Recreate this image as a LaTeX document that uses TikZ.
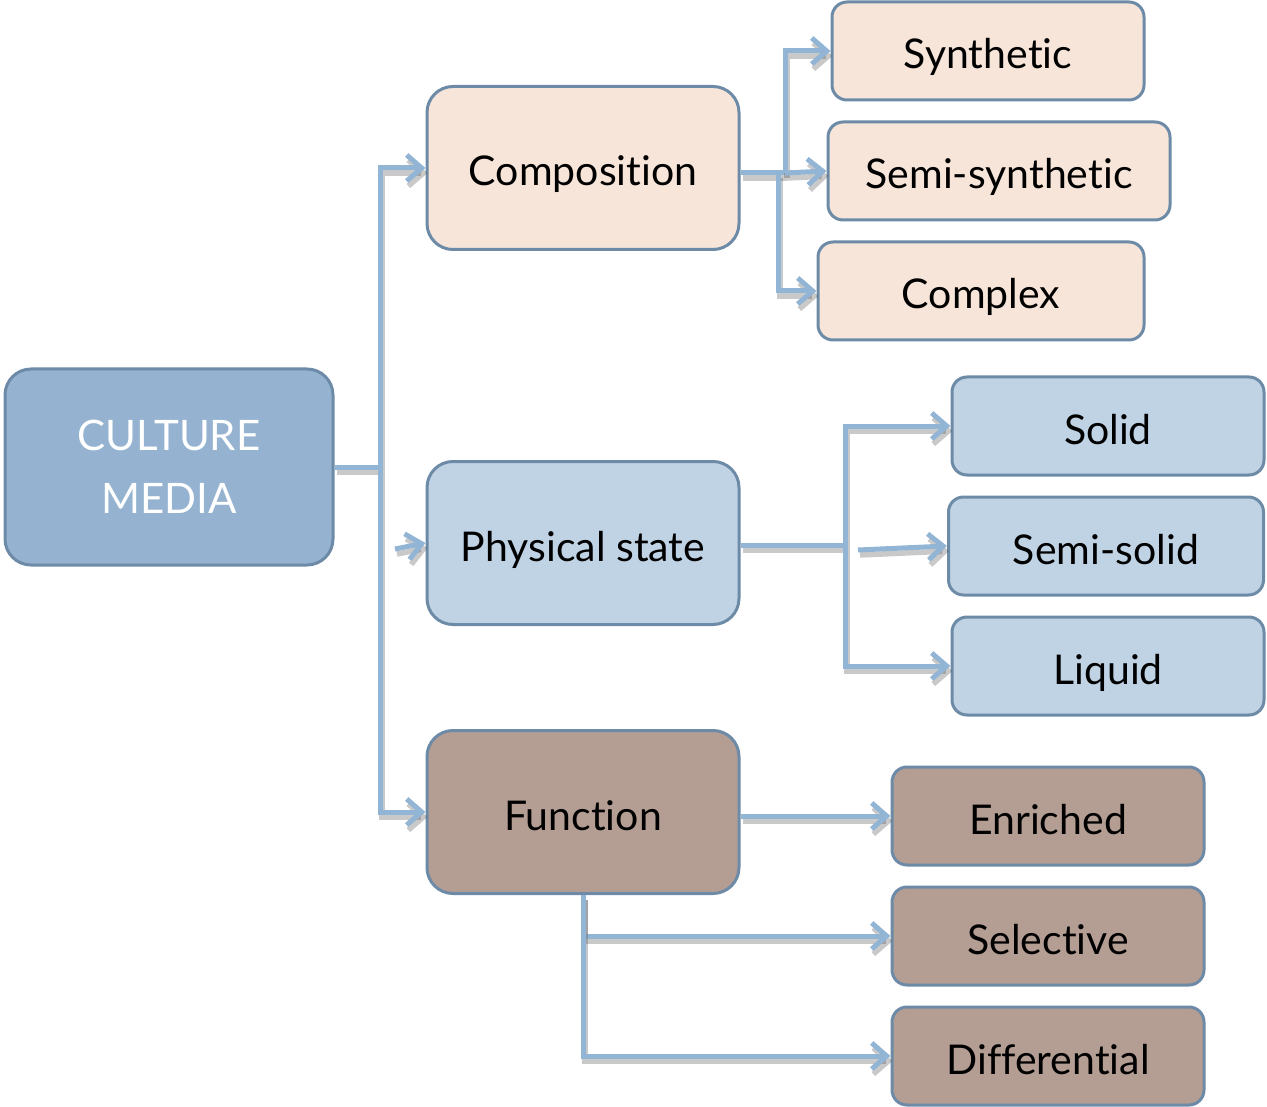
\documentclass[tikz,border=0pt]{standalone}
\usepackage{fontspec}
\setmainfont{Lato}[Ligatures=NoCommon]
\usetikzlibrary{arrows.meta}
\definecolor{boxline}{HTML}{6D8BA6}
\definecolor{linkblue}{HTML}{93B5D5}
\definecolor{rootblue}{HTML}{95B3D1}
\definecolor{peach}{HTML}{F7E5DA}
\definecolor{paleblue}{HTML}{C0D3E5}
\definecolor{taupe}{HTML}{B49D93}

\begin{document}
\begin{tikzpicture}
[x=1pt,y=-1pt,
  boxdecorate/.style={shape=rectangle,rounded corners=15pt,draw=boxline,line width=3pt,%
    text=black,font=\fontsize{41}{49}\selectfont,text height=39pt,text depth=3pt},
  bigdecorate/.style={boxdecorate,rounded corners=26pt,minimum width=312,minimum height=163},
  linedecorate/.style={draw=linkblue,line width=5pt,%
    preaction={draw=black!70,line width=5.5pt,opacity=.3,transform canvas={shift={(2pt,-5pt)}}}},
  arrowdecorate/.style={linedecorate,-{Straight Barb[length=15pt,width=26pt]}}]
\useasboundingbox (0,0) rectangle (1267,1107);
%% nodes or boxes
\node (cm) at (169,467) [boxdecorate,rounded corners=26pt,fill=rootblue,text=white,
  minimum width=328,minimum height=196,align=center,text height=,text depth=,
  font=\fontsize{42}{63}\selectfont] {CULTURE\\MEDIA};
\foreach \nodename/\x/\y/\colour/\caption in {comp/583/168/peach/Composition,
  phys/583/543/paleblue/Physical state, func/583/812/taupe/Function}
{
  \node (\nodename) at (\x,\y) [bigdecorate,fill=\colour] {\caption};
}
\foreach \nodename/\x/\y/\w/\colour/\caption in {syn/988/51/312/peach/Synthetic,
  semisyn/999/171/342/peach/Semi-synthetic, cpx/981/291/326/peach/Complex,
  solid/1108/426/312/paleblue/Solid, semisolid/1106/546/315/paleblue/Semi-solid,
  liquid/1108/666/312/paleblue/Liquid, enr/1048/816/312/taupe/Enriched,
  sel/1048/936/312/taupe/Selective, diff/1048/1056/312/taupe/Differential}
{
  \node (\nodename) at (\x,\y) [boxdecorate,fill=\colour,minimum width=\w,minimum height=98] {\caption};
}
%% junctions
\coordinate (tcm) at (380,467);
\coordinate (tcomp) at (785,173);
\coordinate (tcpx) at (778,173);
\coordinate (tphys) at (845,545);
\coordinate (sphys) at (395,549);
\coordinate (ssolid) at (858,550);
%% connectors
\draw[linedecorate] (cm.east |- tcm) -- (tcm);
\draw[linedecorate] (comp.east |- tcomp) -- (tcomp);
\draw[linedecorate] (phys.east |- tphys) -- (tphys);
\foreach \startnode/\endnode in {tcm/comp, tcm/func, tcomp/syn, tcpx/cpx,
  tphys/solid, tphys/liquid, func.south/sel, func.south/diff}
{
  \draw[arrowdecorate] (\startnode) |- (\endnode.west);
}
\draw[arrowdecorate] (tcomp) -- (semisyn.west);
\draw[arrowdecorate] (sphys) -- (phys.west);
\draw[arrowdecorate] (ssolid) -- (semisolid.west);
\draw[arrowdecorate] (func.east |- enr.west) -- (enr.west);
\end{tikzpicture}
\end{document}
